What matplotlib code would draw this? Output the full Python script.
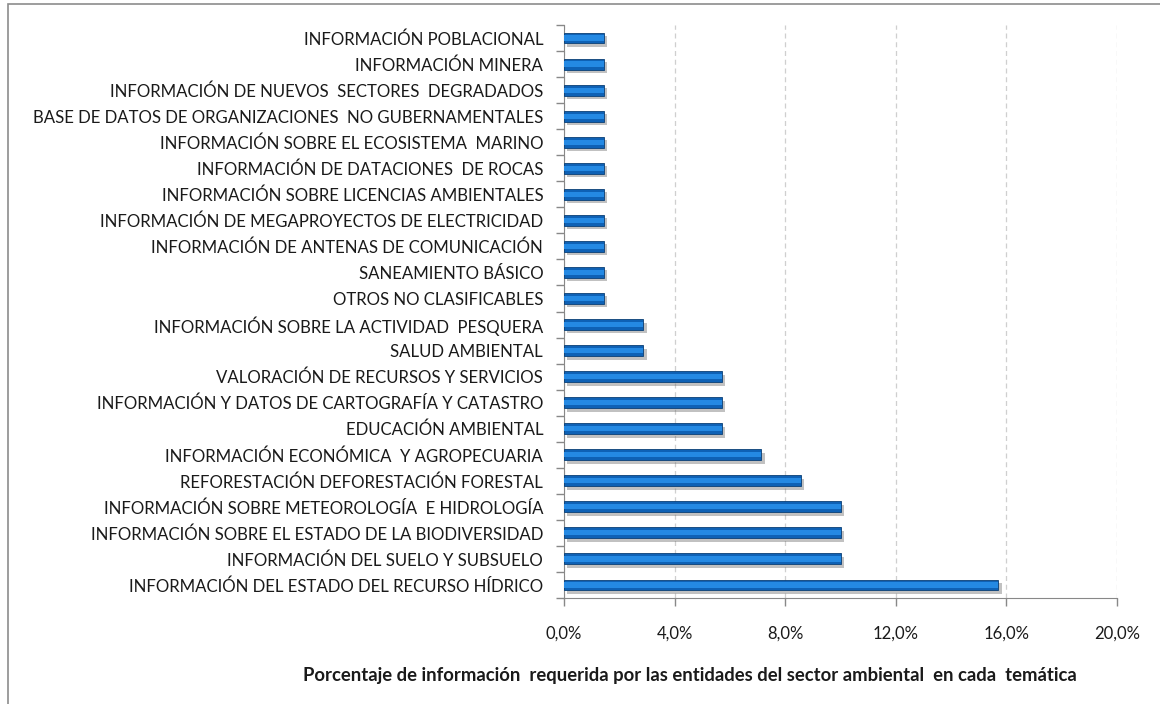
import matplotlib
matplotlib.use("Agg")
import matplotlib.pyplot as plt
import matplotlib.patheffects as pe
from matplotlib.ticker import FuncFormatter, FixedLocator
from matplotlib.patches import Rectangle

categories = [
    "INFORMACIÓN DEL ESTADO DEL RECURSO HÍDRICO",
    "INFORMACIÓN DEL SUELO Y SUBSUELO",
    "INFORMACIÓN SOBRE EL ESTADO DE LA BIODIVERSIDAD",
    "INFORMACIÓN SOBRE METEOROLOGÍA  E HIDROLOGÍA",
    "REFORESTACIÓN DEFORESTACIÓN FORESTAL",
    "INFORMACIÓN ECONÓMICA  Y AGROPECUARIA",
    "EDUCACIÓN AMBIENTAL",
    "INFORMACIÓN Y DATOS DE CARTOGRAFÍA Y CATASTRO",
    "VALORACIÓN DE RECURSOS Y SERVICIOS",
    "SALUD AMBIENTAL",
    "INFORMACIÓN SOBRE LA ACTIVIDAD  PESQUERA",
    "OTROS NO CLASIFICABLES",
    "SANEAMIENTO BÁSICO",
    "INFORMACIÓN DE ANTENAS DE COMUNICACIÓN",
    "INFORMACIÓN DE MEGAPROYECTOS DE ELECTRICIDAD",
    "INFORMACIÓN SOBRE LICENCIAS AMBIENTALES",
    "INFORMACIÓN DE DATACIONES  DE ROCAS",
    "INFORMACIÓN SOBRE EL ECOSISTEMA  MARINO",
    "BASE DE DATOS DE ORGANIZACIONES  NO GUBERNAMENTALES",
    "INFORMACIÓN DE NUEVOS  SECTORES  DEGRADADOS",
    "INFORMACIÓN MINERA",
    "INFORMACIÓN POBLACIONAL",
]
values = [15.7, 10.0, 10.0, 10.0, 8.57, 7.14, 5.71, 5.71, 5.71, 2.86, 2.86,
          1.43, 1.43, 1.43, 1.43, 1.43, 1.43, 1.43, 1.43, 1.43, 1.43, 1.43]
xticks = [0, 4, 8, 12, 16, 20]
xlabel = "Porcentaje de información  requerida por las entidades del sector ambiental  en cada  temática"

FONT = ["Lato", "DejaVu Sans"]
plt.rcParams["font.family"] = FONT

W, H = 1160, 704
fig = plt.figure(figsize=(W / 100, H / 100), dpi=100)
fig.patch.set_facecolor("white")

# outer chart frame (left/top visible)
fig.add_artist(Rectangle((8 / W, -0.05), 1.2, 1 - 4 / H + 0.05, transform=fig.transFigure,
                         fill=False, edgecolor="#8c8c8c", linewidth=1.2))

ax = fig.add_axes([564 / W, 1 - 598 / H, (1117 - 564) / W, (598 - 25) / H])
y = list(range(len(categories)))

shadow = [pe.SimplePatchShadow(offset=(2.5, -2.5), shadow_rgbFace="#666666", alpha=0.4),
          pe.Normal()]
bars = ax.barh(y, values, height=0.42, color="#0e61b5", edgecolor="#0a3f75",
               linewidth=0.6, zorder=3)
for b in bars:
    b.set_path_effects(shadow)
# highlight strip to mimic gradient
ax.barh(y, values, height=0.2, color="#2489e3", linewidth=0, zorder=4)

ax.set_xlim(0, 20)
ax.set_ylim(-0.5, len(categories) - 0.5)
ax.set_xticks(xticks)
ax.xaxis.set_major_formatter(FuncFormatter(lambda v, p: f"{v:.1f}%".replace(".", ",")))
ax.set_yticks(y)
ax.set_yticklabels(categories)
ax.yaxis.set_minor_locator(FixedLocator([i - 0.5 for i in range(len(categories) + 1)]))
ax.tick_params(axis="y", which="major", length=0, pad=15, labelsize=12.1, colors="#1a1a1a")
ax.tick_params(axis="y", which="minor", length=6, width=1, color="#888888", direction="out")
ax.tick_params(axis="x", which="major", length=6, width=1, color="#888888", pad=14,
               labelsize=12, labelcolor="#1a1a1a")

ax.grid(axis="x", linestyle=(0, (4, 3)), color="#cfcfcf", linewidth=0.9, zorder=0)
ax.set_axisbelow(True)
for s in ["top", "right"]:
    ax.spines[s].set_visible(False)
ax.spines["left"].set_color("#888888")
ax.spines["bottom"].set_color("#888888")

fig.text(690 / W, 1 - 675 / H, xlabel, ha="center", va="center", fontsize=13.3,
         fontweight="bold", color="#1a1a1a")

fig.savefig("out.png", dpi=100, facecolor="white")
